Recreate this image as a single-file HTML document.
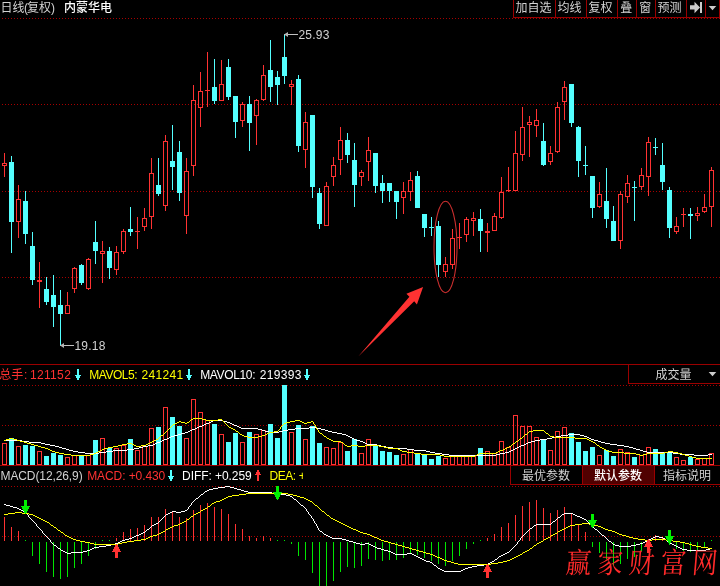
<!DOCTYPE html>
<html lang="zh-CN"><head><meta charset="utf-8"><title>内蒙华电 日线(复权)</title>
<style>
html,body{margin:0;padding:0;background:#000;}
body{width:720px;height:586px;overflow:hidden;position:relative;font-family:"Liberation Sans","Noto Sans CJK SC",sans-serif;font-size:12px;line-height:14px;color:#c0c0c0;}
#chart{position:absolute;left:0;top:0;width:720px;height:586px;display:block;}
.t{position:absolute;white-space:nowrap;height:14px;line-height:14px;font-size:12px;}
.g{color:#d2d2d2}.w{color:#fff}.cw{font-weight:500}.r{color:#ff3232}.y{color:#ffff00}
.btn{position:absolute;box-sizing:border-box;border:1px solid #9a0000;text-align:center;color:#c0c0c0;font-size:12px;line-height:14px;white-space:nowrap;overflow:hidden;}
.wm{position:absolute;left:564px;top:549px;font-family:"Liberation Serif","Noto Serif CJK SC",serif;font-weight:400;font-size:25.5px;line-height:34px;letter-spacing:6.1px;color:#ff2a2a;white-space:nowrap;transform:skewX(-5deg) scaleY(1.13);transform-origin:left bottom;}
</style></head><body>
<svg id="chart" width="720" height="586" viewBox="0 0 720 586" shape-rendering="crispEdges">
<rect width="720" height="586" fill="#000"/>
<g stroke="#a60000" stroke-width="1" stroke-dasharray="1 2" fill="none">
<line x1="2" y1="18.5" x2="720" y2="18.5"/>
<line x1="2" y1="104.5" x2="720" y2="104.5"/>
<line x1="2" y1="191.5" x2="720" y2="191.5"/>
<line x1="2" y1="277.5" x2="720" y2="277.5"/>
<line x1="2" y1="385.5" x2="720" y2="385.5"/>
<line x1="2" y1="425.5" x2="720" y2="425.5"/>
<line x1="2" y1="486.5" x2="720" y2="486.5"/>
<line x1="2" y1="536.5" x2="720" y2="536.5"/>
</g>
<g stroke="#9a0000" stroke-width="1" fill="none">
<line x1="0" y1="364.5" x2="720" y2="364.5"/>
<line x1="0" y1="465.5" x2="720" y2="465.5"/>
</g>
<path fill="#54ffff" d="M11 156h1v97h-1zM9 162h5v60h-5zM25 191h1v53h-1zM23 201h5v33h-5zM32 232h1v53h-1zM30 246h5v34h-5zM46 277h1v28h-1zM44 289h5v13h-5zM53 275h1v52h-1zM51 295h5v12h-5zM60 290h1v55h-1zM58 305h5v9h-5zM81 264h1v21h-1zM79 265h5v18h-5zM95 221h1v43h-1zM93 242h5v9h-5zM109 247h1v32h-1zM107 251h5v17h-5zM130 207h1v29h-1zM128 229h5v3h-5zM158 158h1v38h-1zM156 185h5v9h-5zM172 125h1v65h-1zM170 161h5v6h-5zM179 141h1v60h-1zM177 152h5v41h-5zM214 59h1v45h-1zM212 87h5v14h-5zM228 59h1v41h-1zM226 67h5v30h-5zM235 96h1v42h-1zM233 96h5v26h-5zM249 96h1v55h-1zM247 104h5v19h-5zM270 40h1v62h-1zM268 70h5v17h-5zM277 71h1v34h-1zM275 77h5v8h-5zM284 34h1v50h-1zM282 57h5v19h-5zM298 75h1v77h-1zM296 79h5v67h-5zM312 115h1v83h-1zM310 115h5v72h-5zM319 188h1v41h-1zM317 193h5v31h-5zM347 133h1v30h-1zM345 140h5v15h-5zM354 143h1v64h-1zM352 160h5v25h-5zM375 153h1v40h-1zM373 153h5v33h-5zM382 175h1v28h-1zM380 183h5v8h-5zM389 183h1v19h-1zM387 183h5v8h-5zM396 191h1v28h-1zM394 191h5v11h-5zM417 171h1v37h-1zM415 176h5v32h-5zM424 214h1v23h-1zM422 214h5v14h-5zM431 217h1v19h-1zM429 227h5v1h-5zM438 221h1v56h-1zM436 226h5v39h-5zM480 209h1v43h-1zM478 219h5v12h-5zM543 123h1v43h-1zM541 141h5v24h-5zM571 84h1v43h-1zM569 84h5v39h-5zM578 126h1v51h-1zM576 127h5v34h-5zM585 146h1v29h-1zM583 165h5v1h-5zM592 176h1v42h-1zM590 176h5v32h-5zM606 168h1v60h-1zM604 201h5v18h-5zM613 206h1v35h-1zM611 221h5v20h-5zM634 181h1v40h-1zM632 187h5v1h-5zM655 138h1v17h-1zM653 147h5v1h-5zM662 143h1v47h-1zM660 165h5v17h-5zM669 187h1v51h-1zM667 190h5v38h-5zM690 208h1v31h-1zM688 214h5v2h-5z"/>
<path fill="#ff3232" d="M4 153h1v10h-1zM4 166h1v11h-1zM18 185h1v14h-1zM18 222h1v16h-1zM39 262h1v46h-1zM37 280h5v2h-5zM67 292h1v13h-1zM74 267h1v1h-1zM74 289h1v4h-1zM88 258h1v1h-1zM88 289h1v1h-1zM102 241h1v10h-1zM102 254h1v29h-1zM116 246h1v6h-1zM116 270h1v5h-1zM123 229h1v2h-1zM123 252h1v2h-1zM137 217h1v32h-1zM135 231h5v1h-5zM144 208h1v10h-1zM144 227h1v4h-1zM151 158h1v15h-1zM151 217h1v12h-1zM165 135h1v6h-1zM165 206h1v5h-1zM186 158h1v13h-1zM186 216h1v18h-1zM193 85h1v15h-1zM193 166h1v10h-1zM200 72h1v19h-1zM200 108h1v19h-1zM207 52h1v55h-1zM205 90h5v1h-5zM221 60h1v24h-1zM242 102h1v2h-1zM242 121h1v6h-1zM256 99h1v1h-1zM256 116h1v29h-1zM263 65h1v10h-1zM263 100h1v1h-1zM291 80h1v4h-1zM291 87h1v18h-1zM305 112h1v10h-1zM305 150h1v18h-1zM326 182h1v4h-1zM333 157h1v8h-1zM333 177h1v9h-1zM340 127h1v13h-1zM340 160h1v15h-1zM361 170h1v2h-1zM361 177h1v9h-1zM368 137h1v13h-1zM368 162h1v19h-1zM403 182h1v9h-1zM403 198h1v16h-1zM410 172h1v8h-1zM410 192h1v9h-1zM445 257h1v7h-1zM445 272h1v5h-1zM452 229h1v9h-1zM452 265h1v4h-1zM459 223h1v26h-1zM457 237h5v1h-5zM466 217h1v2h-1zM466 235h1v7h-1zM473 212h1v6h-1zM473 221h1v15h-1zM487 223h1v29h-1zM485 231h5v2h-5zM494 213h1v3h-1zM501 177h1v15h-1zM501 218h1v1h-1zM508 167h1v25h-1zM506 190h5v1h-5zM515 131h1v22h-1zM522 107h1v20h-1zM522 155h1v6h-1zM529 116h1v6h-1zM529 125h1v32h-1zM536 109h1v11h-1zM536 126h1v11h-1zM550 146h1v7h-1zM550 162h1v3h-1zM557 102h1v5h-1zM557 152h1v1h-1zM564 81h1v6h-1zM564 102h1v18h-1zM599 182h1v12h-1zM599 207h1v1h-1zM620 191h1v3h-1zM620 241h1v8h-1zM627 175h1v8h-1zM627 197h1v6h-1zM641 168h1v7h-1zM641 187h1v3h-1zM648 137h1v5h-1zM648 177h1v19h-1zM676 217h1v9h-1zM676 232h1v2h-1zM683 208h1v19h-1zM681 214h5v1h-5zM697 207h1v6h-1zM697 216h1v5h-1zM704 194h1v13h-1zM704 212h1v1h-1zM711 167h1v3h-1zM711 207h1v20h-1z"/>
<path fill="none" stroke="#ff3232" stroke-width="1" d="M2.5 163.5h4v2h-4zM16.5 199.5h4v22h-4zM65.5 305.5h4v8h-4zM72.5 268.5h4v20h-4zM86.5 259.5h4v29h-4zM100.5 251.5h4v2h-4zM114.5 252.5h4v17h-4zM121.5 231.5h4v20h-4zM142.5 218.5h4v8h-4zM149.5 173.5h4v43h-4zM163.5 141.5h4v64h-4zM184.5 171.5h4v44h-4zM191.5 100.5h4v65h-4zM198.5 91.5h4v16h-4zM219.5 84.5h4v16h-4zM240.5 104.5h4v16h-4zM254.5 100.5h4v15h-4zM261.5 75.5h4v24h-4zM289.5 84.5h4v2h-4zM303.5 122.5h4v27h-4zM324.5 186.5h4v39h-4zM331.5 165.5h4v11h-4zM338.5 140.5h4v19h-4zM359.5 172.5h4v4h-4zM366.5 150.5h4v11h-4zM401.5 191.5h4v6h-4zM408.5 180.5h4v11h-4zM443.5 264.5h4v7h-4zM450.5 238.5h4v26h-4zM464.5 219.5h4v15h-4zM471.5 218.5h4v2h-4zM492.5 216.5h4v14h-4zM499.5 192.5h4v25h-4zM513.5 153.5h4v37h-4zM520.5 127.5h4v27h-4zM527.5 122.5h4v2h-4zM534.5 120.5h4v5h-4zM548.5 153.5h4v8h-4zM555.5 107.5h4v44h-4zM562.5 87.5h4v14h-4zM597.5 194.5h4v12h-4zM618.5 194.5h4v46h-4zM625.5 183.5h4v13h-4zM639.5 175.5h4v11h-4zM646.5 142.5h4v34h-4zM674.5 226.5h4v5h-4zM695.5 213.5h4v2h-4zM702.5 207.5h4v4h-4zM709.5 170.5h4v36h-4z"/>
<path fill="#54ffff" d="M9 438h5v27h-5zM23 445h5v20h-5zM30 446h5v19h-5zM44 456h5v9h-5zM51 453h5v12h-5zM58 455h5v10h-5zM79 455h5v10h-5zM93 440h5v25h-5zM107 448h5v17h-5zM128 439h5v26h-5zM156 427h5v38h-5zM170 417h5v48h-5zM177 426h5v39h-5zM212 424h5v41h-5zM226 442h5v23h-5zM233 433h5v32h-5zM247 432h5v33h-5zM268 424h5v41h-5zM275 438h5v27h-5zM282 385h5v80h-5zM296 425h5v40h-5zM310 426h5v39h-5zM317 443h5v22h-5zM345 451h5v14h-5zM352 439h5v26h-5zM373 445h5v20h-5zM380 451h5v14h-5zM387 452h5v13h-5zM394 455h5v10h-5zM415 453h5v12h-5zM422 454h5v11h-5zM429 459h5v6h-5zM436 456h5v9h-5zM478 448h5v17h-5zM541 440h5v25h-5zM569 433h5v32h-5zM576 442h5v23h-5zM583 451h5v14h-5zM590 447h5v18h-5zM604 450h5v15h-5zM611 456h5v9h-5zM632 457h5v8h-5zM653 449h5v16h-5zM660 453h5v12h-5zM667 452h5v13h-5zM688 457h5v8h-5z"/>
<path fill="none" stroke="#ff3232" stroke-width="1" d="M2.5 443.5h4v21h-4zM16.5 446.5h4v18h-4zM37.5 451.5h4v13h-4zM65.5 457.5h4v7h-4zM72.5 455.5h4v9h-4zM86.5 455.5h4v9h-4zM100.5 438.5h4v26h-4zM114.5 448.5h4v16h-4zM121.5 445.5h4v19h-4zM135.5 450.5h4v14h-4zM142.5 446.5h4v18h-4zM149.5 428.5h4v36h-4zM163.5 407.5h4v57h-4zM184.5 438.5h4v26h-4zM191.5 399.5h4v65h-4zM198.5 412.5h4v52h-4zM205.5 420.5h4v44h-4zM219.5 434.5h4v30h-4zM240.5 442.5h4v22h-4zM254.5 434.5h4v30h-4zM261.5 430.5h4v34h-4zM289.5 432.5h4v32h-4zM303.5 439.5h4v25h-4zM324.5 447.5h4v17h-4zM331.5 448.5h4v16h-4zM338.5 442.5h4v22h-4zM359.5 453.5h4v11h-4zM366.5 439.5h4v25h-4zM401.5 454.5h4v10h-4zM408.5 449.5h4v15h-4zM443.5 458.5h4v6h-4zM450.5 455.5h4v9h-4zM457.5 456.5h4v8h-4zM464.5 456.5h4v8h-4zM471.5 456.5h4v8h-4zM485.5 451.5h4v13h-4zM492.5 453.5h4v11h-4zM499.5 441.5h4v23h-4zM506.5 447.5h4v17h-4zM513.5 415.5h4v49h-4zM520.5 426.5h4v38h-4zM527.5 426.5h4v38h-4zM534.5 437.5h4v27h-4zM548.5 450.5h4v14h-4zM555.5 431.5h4v33h-4zM562.5 427.5h4v37h-4zM597.5 455.5h4v9h-4zM618.5 449.5h4v15h-4zM625.5 452.5h4v12h-4zM639.5 455.5h4v9h-4zM646.5 447.5h4v17h-4zM674.5 457.5h4v7h-4zM681.5 460.5h4v4h-4zM695.5 459.5h4v5h-4zM702.5 458.5h4v6h-4zM709.5 453.5h4v11h-4z"/>
<path fill="#ffffff" d="M213 420h10v1h-10zM211 421h2v1h-2zM223 421h4v1h-4zM209 422h2v1h-2zM227 422h3v1h-3zM206 423h3v1h-3zM230 423h2v1h-2zM204 424h2v1h-2zM232 424h2v1h-2zM202 425h2v1h-2zM234 425h3v1h-3zM199 426h3v1h-3zM237 426h2v1h-2zM197 427h2v1h-2zM239 427h2v1h-2zM309 427h7v1h-7zM195 428h2v1h-2zM241 428h17v1h-17zM295 428h14v1h-14zM316 428h5v1h-5zM192 429h3v1h-3zM258 429h4v1h-4zM288 429h7v1h-7zM321 429h4v1h-4zM190 430h2v1h-2zM262 430h3v1h-3zM283 430h5v1h-5zM325 430h3v1h-3zM188 431h2v1h-2zM265 431h4v1h-4zM279 431h4v1h-4zM328 431h4v1h-4zM185 432h3v1h-3zM269 432h10v1h-10zM332 432h5v1h-5zM181 433h4v1h-4zM337 433h5v1h-5zM178 434h3v1h-3zM342 434h4v1h-4zM568 434h12v1h-12zM174 435h4v1h-4zM346 435h2v1h-2zM561 435h7v1h-7zM580 435h4v1h-4zM171 436h3v1h-3zM348 436h2v1h-2zM556 436h5v1h-5zM584 436h3v1h-3zM169 437h2v1h-2zM350 437h2v1h-2zM552 437h4v1h-4zM587 437h2v1h-2zM167 438h2v1h-2zM352 438h2v1h-2zM547 438h5v1h-5zM589 438h2v1h-2zM164 439h3v1h-3zM354 439h2v1h-2zM540 439h7v1h-7zM591 439h3v1h-3zM4 440h18v1h-18zM162 440h2v1h-2zM356 440h4v1h-4zM535 440h5v1h-5zM594 440h4v1h-4zM22 441h7v1h-7zM160 441h2v1h-2zM360 441h3v1h-3zM531 441h4v1h-4zM598 441h3v1h-3zM29 442h12v1h-12zM157 442h3v1h-3zM363 442h2v1h-2zM528 442h3v1h-3zM601 442h4v1h-4zM41 443h4v1h-4zM155 443h2v1h-2zM365 443h2v1h-2zM526 443h2v1h-2zM605 443h5v1h-5zM45 444h5v1h-5zM153 444h2v1h-2zM367 444h10v1h-10zM524 444h2v1h-2zM610 444h7v1h-7zM50 445h5v1h-5zM148 445h5v1h-5zM377 445h4v1h-4zM521 445h3v1h-3zM617 445h7v1h-7zM55 446h4v1h-4zM143 446h5v1h-5zM381 446h5v1h-5zM519 446h2v1h-2zM624 446h5v1h-5zM59 447h3v1h-3zM139 447h4v1h-4zM386 447h7v1h-7zM517 447h2v1h-2zM629 447h4v1h-4zM62 448h4v1h-4zM134 448h5v1h-5zM393 448h14v1h-14zM515 448h2v1h-2zM633 448h3v1h-3zM66 449h3v1h-3zM127 449h7v1h-7zM407 449h7v1h-7zM513 449h2v1h-2zM636 449h4v1h-4zM69 450h4v1h-4zM113 450h14v1h-14zM414 450h12v1h-12zM511 450h2v1h-2zM640 450h3v1h-3zM73 451h5v1h-5zM106 451h7v1h-7zM426 451h4v1h-4zM509 451h2v1h-2zM643 451h4v1h-4zM78 452h7v1h-7zM99 452h7v1h-7zM430 452h5v1h-5zM505 452h4v1h-4zM647 452h26v1h-26zM85 453h14v1h-14zM435 453h7v1h-7zM500 453h5v1h-5zM673 453h7v1h-7zM442 454h7v1h-7zM496 454h4v1h-4zM680 454h14v1h-14zM708 454h4v1h-4zM449 455h47v1h-47zM694 455h14v1h-14z"/>
<path fill="#ffff00" d="M193 418h9v1h-9zM191 419h2v1h-2zM202 419h4v1h-4zM218 419h4v1h-4zM190 420h1v1h-1zM206 420h12v1h-12zM222 420h1v1h-1zM295 420h5v1h-5zM179 421h2v1h-2zM189 421h1v1h-1zM223 421h1v1h-1zM290 421h5v1h-5zM300 421h2v1h-2zM311 421h2v1h-2zM177 422h2v1h-2zM181 422h4v1h-4zM187 422h2v1h-2zM224 422h1v1h-1zM286 422h4v1h-4zM302 422h2v1h-2zM307 422h4v1h-4zM313 422h1v1h-1zM175 423h2v1h-2zM185 423h2v1h-2zM225 423h1v1h-1zM284 423h2v1h-2zM304 423h3v1h-3zM313 423h1v1h-1zM173 424h2v1h-2zM226 424h1v1h-1zM283 424h1v1h-1zM314 424h1v1h-1zM172 425h1v1h-1zM227 425h1v1h-1zM282 425h1v1h-1zM315 425h1v1h-1zM171 426h1v1h-1zM228 426h1v1h-1zM281 426h1v1h-1zM315 426h1v1h-1zM170 427h1v1h-1zM229 427h2v1h-2zM280 427h1v1h-1zM316 427h1v1h-1zM169 428h1v1h-1zM231 428h2v1h-2zM280 428h1v1h-1zM316 428h1v1h-1zM168 429h1v1h-1zM233 429h2v1h-2zM279 429h1v1h-1zM317 429h1v1h-1zM167 430h1v1h-1zM235 430h1v1h-1zM278 430h1v1h-1zM318 430h1v1h-1zM533 430h11v1h-11zM166 431h1v1h-1zM236 431h2v1h-2zM274 431h4v1h-4zM318 431h1v1h-1zM529 431h4v1h-4zM544 431h1v1h-1zM165 432h1v1h-1zM238 432h1v1h-1zM269 432h5v1h-5zM319 432h1v1h-1zM528 432h1v1h-1zM545 432h1v1h-1zM164 433h1v1h-1zM239 433h1v1h-1zM267 433h2v1h-2zM320 433h2v1h-2zM527 433h1v1h-1zM546 433h2v1h-2zM163 434h1v1h-1zM240 434h2v1h-2zM265 434h2v1h-2zM322 434h1v1h-1zM525 434h2v1h-2zM548 434h1v1h-1zM161 435h2v1h-2zM242 435h2v1h-2zM262 435h3v1h-3zM323 435h1v1h-1zM524 435h1v1h-1zM549 435h1v1h-1zM160 436h1v1h-1zM244 436h4v1h-4zM258 436h4v1h-4zM324 436h2v1h-2zM523 436h1v1h-1zM550 436h4v1h-4zM159 437h1v1h-1zM248 437h10v1h-10zM326 437h1v1h-1zM522 437h1v1h-1zM554 437h21v1h-21zM10 438h3v1h-3zM158 438h1v1h-1zM327 438h2v1h-2zM520 438h2v1h-2zM575 438h12v1h-12zM6 439h4v1h-4zM13 439h4v1h-4zM156 439h2v1h-2zM329 439h2v1h-2zM519 439h1v1h-1zM587 439h2v1h-2zM4 440h2v1h-2zM17 440h3v1h-3zM154 440h2v1h-2zM331 440h2v1h-2zM518 440h1v1h-1zM589 440h2v1h-2zM20 441h4v1h-4zM152 441h2v1h-2zM333 441h8v1h-8zM516 441h2v1h-2zM591 441h2v1h-2zM24 442h3v1h-3zM150 442h2v1h-2zM341 442h2v1h-2zM515 442h1v1h-1zM593 442h2v1h-2zM27 443h4v1h-4zM127 443h5v1h-5zM148 443h2v1h-2zM343 443h1v1h-1zM513 443h2v1h-2zM595 443h1v1h-1zM31 444h3v1h-3zM122 444h5v1h-5zM132 444h2v1h-2zM146 444h2v1h-2zM344 444h1v1h-1zM512 444h1v1h-1zM596 444h1v1h-1zM34 445h4v1h-4zM118 445h4v1h-4zM134 445h2v1h-2zM141 445h5v1h-5zM345 445h2v1h-2zM351 445h7v1h-7zM365 445h14v1h-14zM511 445h1v1h-1zM597 445h2v1h-2zM38 446h3v1h-3zM113 446h5v1h-5zM136 446h5v1h-5zM347 446h4v1h-4zM358 446h7v1h-7zM379 446h5v1h-5zM509 446h2v1h-2zM599 446h1v1h-1zM41 447h4v1h-4zM108 447h5v1h-5zM384 447h4v1h-4zM507 447h2v1h-2zM600 447h2v1h-2zM45 448h3v1h-3zM104 448h4v1h-4zM388 448h10v1h-10zM505 448h2v1h-2zM602 448h2v1h-2zM48 449h2v1h-2zM102 449h2v1h-2zM398 449h2v1h-2zM503 449h2v1h-2zM604 449h2v1h-2zM50 450h2v1h-2zM100 450h2v1h-2zM400 450h2v1h-2zM500 450h3v1h-3zM606 450h2v1h-2zM52 451h3v1h-3zM98 451h2v1h-2zM402 451h5v1h-5zM498 451h2v1h-2zM608 451h4v1h-4zM668 451h5v1h-5zM55 452h4v1h-4zM96 452h2v1h-2zM407 452h7v1h-7zM496 452h2v1h-2zM612 452h12v1h-12zM664 452h4v1h-4zM673 452h5v1h-5zM59 453h5v1h-5zM94 453h2v1h-2zM414 453h7v1h-7zM479 453h17v1h-17zM624 453h12v1h-12zM647 453h17v1h-17zM678 453h4v1h-4zM64 454h7v1h-7zM90 454h4v1h-4zM421 454h19v1h-19zM477 454h2v1h-2zM636 454h4v1h-4zM643 454h4v1h-4zM682 454h3v1h-3zM71 455h19v1h-19zM440 455h4v1h-4zM475 455h2v1h-2zM640 455h3v1h-3zM685 455h4v1h-4zM444 456h31v1h-31zM689 456h3v1h-3zM692 457h4v1h-4zM696 458h16v1h-16z"/>
<path fill="#ff3232" d="M4 517h1v24h-1zM11 527h1v14h-1zM18 531h1v10h-1zM116 538h1v3h-1zM123 532h1v9h-1zM130 529h1v12h-1zM137 528h1v13h-1zM144 525h1v16h-1zM151 517h1v24h-1zM158 517h1v24h-1zM165 509h1v32h-1zM172 511h1v30h-1zM179 517h1v24h-1zM186 518h1v23h-1zM193 510h1v31h-1zM200 505h1v36h-1zM207 503h1v38h-1zM214 507h1v34h-1zM221 509h1v32h-1zM228 514h1v27h-1zM235 524h1v17h-1zM242 529h1v12h-1zM249 536h1v5h-1zM256 538h1v3h-1zM263 536h1v5h-1zM270 538h1v3h-1zM487 538h1v3h-1zM494 534h1v7h-1zM501 527h1v14h-1zM508 523h1v18h-1zM515 515h1v26h-1zM522 506h1v35h-1zM529 502h1v39h-1zM536 500h1v41h-1zM543 508h1v33h-1zM550 513h1v28h-1zM557 510h1v31h-1zM564 507h1v34h-1zM571 513h1v28h-1zM578 524h1v17h-1zM585 532h1v9h-1zM655 535h1v6h-1zM662 538h1v3h-1z"/>
<path fill="#00e600" d="M25 540h1v1h-1zM32 542h1v14h-1zM39 542h1v22h-1zM46 542h1v30h-1zM53 542h1v35h-1zM60 542h1v37h-1zM67 542h1v35h-1zM74 542h1v26h-1zM81 542h1v22h-1zM88 542h1v14h-1zM95 542h1v7h-1zM102 540h1v1h-1zM109 540h1v1h-1zM277 540h1v1h-1zM284 540h1v1h-1zM291 542h1v2h-1zM298 542h1v14h-1zM305 542h1v18h-1zM312 542h1v31h-1zM319 542h1v44h-1zM326 542h1v45h-1zM333 542h1v39h-1zM340 542h1v30h-1zM347 542h1v25h-1zM354 542h1v26h-1zM361 542h1v24h-1zM368 542h1v17h-1zM375 542h1v18h-1zM382 542h1v19h-1zM389 542h1v18h-1zM396 542h1v18h-1zM403 542h1v16h-1zM410 542h1v11h-1zM417 542h1v13h-1zM424 542h1v16h-1zM431 542h1v19h-1zM438 542h1v22h-1zM445 542h1v24h-1zM452 542h1v19h-1zM459 542h1v14h-1zM466 542h1v7h-1zM473 542h1v2h-1zM480 540h1v1h-1zM592 542h1v5h-1zM599 542h1v11h-1zM606 542h1v17h-1zM613 542h1v23h-1zM620 542h1v22h-1zM627 542h1v17h-1zM634 542h1v15h-1zM641 542h1v9h-1zM648 540h1v1h-1zM669 542h1v3h-1zM676 542h1v7h-1zM683 542h1v9h-1zM690 542h1v10h-1zM697 542h1v9h-1zM704 542h1v5h-1zM711 540h1v1h-1z"/>
<path fill="#ffffff" d="M225 486h5v1h-5zM218 487h7v1h-7zM230 487h4v1h-4zM213 488h5v1h-5zM234 488h3v1h-3zM209 489h4v1h-4zM237 489h4v1h-4zM207 490h2v1h-2zM241 490h3v1h-3zM205 491h2v1h-2zM244 491h4v1h-4zM204 492h1v1h-1zM248 492h24v1h-24zM203 493h1v1h-1zM272 493h4v1h-4zM201 494h2v1h-2zM276 494h10v1h-10zM200 495h1v1h-1zM286 495h4v1h-4zM199 496h1v1h-1zM290 496h2v1h-2zM198 497h1v1h-1zM292 497h1v1h-1zM196 498h2v1h-2zM293 498h1v1h-1zM195 499h1v1h-1zM294 499h2v1h-2zM194 500h1v1h-1zM296 500h1v1h-1zM193 501h1v1h-1zM297 501h1v1h-1zM192 502h1v1h-1zM298 502h1v1h-1zM191 503h1v1h-1zM299 503h1v1h-1zM4 504h2v1h-2zM191 504h1v1h-1zM300 504h1v1h-1zM6 505h4v1h-4zM190 505h1v1h-1zM301 505h2v1h-2zM10 506h3v1h-3zM189 506h1v1h-1zM303 506h1v1h-1zM13 507h4v1h-4zM188 507h1v1h-1zM304 507h1v1h-1zM17 508h2v1h-2zM188 508h1v1h-1zM305 508h1v1h-1zM19 509h2v1h-2zM187 509h1v1h-1zM306 509h1v1h-1zM21 510h2v1h-2zM185 510h2v1h-2zM306 510h1v1h-1zM23 511h2v1h-2zM172 511h4v1h-4zM181 511h4v1h-4zM307 511h1v1h-1zM25 512h1v1h-1zM170 512h2v1h-2zM176 512h5v1h-5zM308 512h1v1h-1zM26 513h1v1h-1zM168 513h2v1h-2zM308 513h1v1h-1zM564 513h9v1h-9zM27 514h1v1h-1zM166 514h2v1h-2zM309 514h1v1h-1zM562 514h2v1h-2zM573 514h2v1h-2zM28 515h1v1h-1zM165 515h1v1h-1zM310 515h1v1h-1zM561 515h1v1h-1zM575 515h2v1h-2zM28 516h1v1h-1zM164 516h1v1h-1zM311 516h1v1h-1zM560 516h1v1h-1zM577 516h3v1h-3zM29 517h1v1h-1zM163 517h1v1h-1zM311 517h1v1h-1zM558 517h2v1h-2zM580 517h2v1h-2zM30 518h1v1h-1zM162 518h1v1h-1zM312 518h1v1h-1zM557 518h1v1h-1zM582 518h2v1h-2zM31 519h1v1h-1zM161 519h1v1h-1zM313 519h1v1h-1zM556 519h1v1h-1zM584 519h2v1h-2zM32 520h1v1h-1zM160 520h1v1h-1zM313 520h1v1h-1zM555 520h1v1h-1zM586 520h1v1h-1zM33 521h1v1h-1zM159 521h1v1h-1zM314 521h1v1h-1zM553 521h2v1h-2zM587 521h1v1h-1zM34 522h1v1h-1zM158 522h1v1h-1zM314 522h1v1h-1zM552 522h1v1h-1zM588 522h1v1h-1zM35 523h1v1h-1zM156 523h2v1h-2zM315 523h1v1h-1zM551 523h1v1h-1zM589 523h1v1h-1zM36 524h1v1h-1zM154 524h2v1h-2zM316 524h1v1h-1zM536 524h15v1h-15zM590 524h1v1h-1zM36 525h1v1h-1zM152 525h2v1h-2zM316 525h1v1h-1zM534 525h2v1h-2zM591 525h1v1h-1zM37 526h1v1h-1zM151 526h1v1h-1zM317 526h1v1h-1zM533 526h1v1h-1zM592 526h1v1h-1zM38 527h1v1h-1zM150 527h1v1h-1zM317 527h1v1h-1zM532 527h1v1h-1zM593 527h1v1h-1zM39 528h1v1h-1zM149 528h1v1h-1zM318 528h1v1h-1zM530 528h2v1h-2zM594 528h1v1h-1zM40 529h1v1h-1zM147 529h2v1h-2zM318 529h1v1h-1zM529 529h1v1h-1zM595 529h2v1h-2zM41 530h1v1h-1zM146 530h1v1h-1zM319 530h1v1h-1zM528 530h1v1h-1zM597 530h1v1h-1zM42 531h1v1h-1zM145 531h1v1h-1zM320 531h2v1h-2zM527 531h1v1h-1zM598 531h1v1h-1zM42 532h1v1h-1zM143 532h2v1h-2zM322 532h1v1h-1zM526 532h1v1h-1zM599 532h1v1h-1zM43 533h1v1h-1zM141 533h2v1h-2zM323 533h1v1h-1zM525 533h1v1h-1zM600 533h1v1h-1zM44 534h1v1h-1zM139 534h2v1h-2zM324 534h2v1h-2zM524 534h1v1h-1zM601 534h1v1h-1zM45 535h1v1h-1zM136 535h3v1h-3zM326 535h2v1h-2zM523 535h1v1h-1zM602 535h2v1h-2zM46 536h1v1h-1zM134 536h2v1h-2zM328 536h2v1h-2zM522 536h1v1h-1zM604 536h1v1h-1zM655 536h4v1h-4zM47 537h1v1h-1zM132 537h2v1h-2zM330 537h2v1h-2zM521 537h1v1h-1zM605 537h1v1h-1zM653 537h2v1h-2zM659 537h4v1h-4zM48 538h1v1h-1zM129 538h3v1h-3zM332 538h10v1h-10zM520 538h1v1h-1zM606 538h1v1h-1zM651 538h2v1h-2zM663 538h2v1h-2zM49 539h1v1h-1zM125 539h4v1h-4zM342 539h4v1h-4zM520 539h1v1h-1zM607 539h1v1h-1zM649 539h2v1h-2zM665 539h1v1h-1zM50 540h1v1h-1zM122 540h3v1h-3zM346 540h3v1h-3zM519 540h1v1h-1zM608 540h1v1h-1zM647 540h2v1h-2zM666 540h1v1h-1zM50 541h1v1h-1zM120 541h2v1h-2zM349 541h4v1h-4zM518 541h1v1h-1zM609 541h2v1h-2zM645 541h2v1h-2zM667 541h2v1h-2zM51 542h1v1h-1zM118 542h2v1h-2zM353 542h3v1h-3zM517 542h1v1h-1zM611 542h1v1h-1zM643 542h2v1h-2zM669 542h1v1h-1zM52 543h1v1h-1zM115 543h3v1h-3zM356 543h4v1h-4zM365 543h4v1h-4zM517 543h1v1h-1zM612 543h1v1h-1zM640 543h3v1h-3zM670 543h2v1h-2zM53 544h1v1h-1zM111 544h4v1h-4zM360 544h5v1h-5zM369 544h2v1h-2zM516 544h1v1h-1zM613 544h2v1h-2zM636 544h4v1h-4zM672 544h2v1h-2zM54 545h2v1h-2zM106 545h5v1h-5zM371 545h2v1h-2zM515 545h1v1h-1zM615 545h4v1h-4zM631 545h5v1h-5zM674 545h2v1h-2zM56 546h1v1h-1zM99 546h7v1h-7zM373 546h2v1h-2zM514 546h1v1h-1zM619 546h12v1h-12zM676 546h2v1h-2zM57 547h1v1h-1zM94 547h5v1h-5zM375 547h2v1h-2zM513 547h1v1h-1zM678 547h2v1h-2zM58 548h2v1h-2zM92 548h2v1h-2zM377 548h4v1h-4zM512 548h1v1h-1zM680 548h2v1h-2zM710 548h2v1h-2zM60 549h1v1h-1zM90 549h2v1h-2zM381 549h3v1h-3zM511 549h1v1h-1zM682 549h5v1h-5zM706 549h4v1h-4zM61 550h2v1h-2zM87 550h3v1h-3zM384 550h4v1h-4zM510 550h1v1h-1zM687 550h19v1h-19zM63 551h2v1h-2zM83 551h4v1h-4zM388 551h3v1h-3zM509 551h1v1h-1zM65 552h2v1h-2zM71 552h12v1h-12zM391 552h2v1h-2zM507 552h2v1h-2zM67 553h4v1h-4zM393 553h2v1h-2zM407 553h5v1h-5zM505 553h2v1h-2zM395 554h12v1h-12zM412 554h2v1h-2zM503 554h2v1h-2zM414 555h2v1h-2zM501 555h2v1h-2zM416 556h2v1h-2zM499 556h2v1h-2zM418 557h2v1h-2zM498 557h1v1h-1zM420 558h2v1h-2zM497 558h1v1h-1zM422 559h2v1h-2zM495 559h2v1h-2zM424 560h2v1h-2zM494 560h1v1h-1zM426 561h4v1h-4zM492 561h2v1h-2zM430 562h2v1h-2zM490 562h2v1h-2zM432 563h1v1h-1zM488 563h2v1h-2zM433 564h1v1h-1zM484 564h4v1h-4zM434 565h2v1h-2zM477 565h7v1h-7zM436 566h1v1h-1zM472 566h5v1h-5zM437 567h1v1h-1zM468 567h4v1h-4zM438 568h2v1h-2zM465 568h3v1h-3zM440 569h2v1h-2zM463 569h2v1h-2zM442 570h2v1h-2zM461 570h2v1h-2zM444 571h17v1h-17z"/>
<path fill="#ffff00" d="M246 493h42v1h-42zM239 494h7v1h-7zM288 494h5v1h-5zM232 495h7v1h-7zM293 495h4v1h-4zM228 496h4v1h-4zM297 496h3v1h-3zM226 497h2v1h-2zM300 497h4v1h-4zM224 498h2v1h-2zM304 498h2v1h-2zM222 499h2v1h-2zM306 499h2v1h-2zM220 500h2v1h-2zM308 500h2v1h-2zM216 501h4v1h-4zM310 501h2v1h-2zM214 502h2v1h-2zM312 502h1v1h-1zM212 503h2v1h-2zM313 503h1v1h-1zM211 504h1v1h-1zM314 504h1v1h-1zM210 505h1v1h-1zM315 505h2v1h-2zM208 506h2v1h-2zM317 506h1v1h-1zM207 507h1v1h-1zM318 507h1v1h-1zM205 508h2v1h-2zM319 508h1v1h-1zM203 509h2v1h-2zM320 509h1v1h-1zM201 510h2v1h-2zM321 510h1v1h-1zM200 511h1v1h-1zM322 511h2v1h-2zM15 512h7v1h-7zM198 512h2v1h-2zM324 512h1v1h-1zM8 513h7v1h-7zM22 513h7v1h-7zM196 513h2v1h-2zM325 513h1v1h-1zM4 514h4v1h-4zM29 514h4v1h-4zM194 514h2v1h-2zM326 514h1v1h-1zM33 515h2v1h-2zM193 515h1v1h-1zM327 515h2v1h-2zM35 516h2v1h-2zM191 516h2v1h-2zM329 516h1v1h-1zM37 517h2v1h-2zM190 517h1v1h-1zM330 517h1v1h-1zM39 518h2v1h-2zM189 518h1v1h-1zM331 518h2v1h-2zM41 519h2v1h-2zM187 519h2v1h-2zM333 519h2v1h-2zM43 520h2v1h-2zM186 520h1v1h-1zM335 520h2v1h-2zM45 521h2v1h-2zM184 521h2v1h-2zM337 521h2v1h-2zM47 522h2v1h-2zM182 522h2v1h-2zM339 522h2v1h-2zM49 523h1v1h-1zM180 523h2v1h-2zM341 523h2v1h-2zM582 523h7v1h-7zM50 524h1v1h-1zM178 524h2v1h-2zM343 524h2v1h-2zM575 524h7v1h-7zM589 524h5v1h-5zM51 525h2v1h-2zM174 525h4v1h-4zM345 525h2v1h-2zM570 525h5v1h-5zM594 525h4v1h-4zM53 526h1v1h-1zM172 526h2v1h-2zM347 526h2v1h-2zM568 526h2v1h-2zM598 526h3v1h-3zM54 527h2v1h-2zM170 527h2v1h-2zM349 527h2v1h-2zM566 527h2v1h-2zM601 527h2v1h-2zM56 528h1v1h-1zM168 528h2v1h-2zM351 528h2v1h-2zM564 528h2v1h-2zM603 528h2v1h-2zM57 529h1v1h-1zM166 529h2v1h-2zM353 529h3v1h-3zM562 529h2v1h-2zM605 529h3v1h-3zM58 530h2v1h-2zM165 530h1v1h-1zM356 530h2v1h-2zM560 530h2v1h-2zM608 530h4v1h-4zM60 531h1v1h-1zM163 531h2v1h-2zM358 531h2v1h-2zM558 531h2v1h-2zM612 531h3v1h-3zM61 532h2v1h-2zM161 532h2v1h-2zM360 532h3v1h-3zM557 532h1v1h-1zM615 532h2v1h-2zM63 533h1v1h-1zM159 533h2v1h-2zM363 533h4v1h-4zM555 533h2v1h-2zM617 533h2v1h-2zM64 534h1v1h-1zM157 534h2v1h-2zM367 534h3v1h-3zM553 534h2v1h-2zM619 534h3v1h-3zM65 535h2v1h-2zM153 535h4v1h-4zM370 535h2v1h-2zM551 535h2v1h-2zM622 535h4v1h-4zM67 536h2v1h-2zM150 536h3v1h-3zM372 536h2v1h-2zM550 536h1v1h-1zM626 536h3v1h-3zM69 537h2v1h-2zM148 537h2v1h-2zM374 537h3v1h-3zM548 537h2v1h-2zM629 537h4v1h-4zM71 538h2v1h-2zM146 538h2v1h-2zM377 538h2v1h-2zM546 538h2v1h-2zM633 538h5v1h-5zM73 539h3v1h-3zM141 539h5v1h-5zM379 539h2v1h-2zM544 539h2v1h-2zM638 539h7v1h-7zM652 539h14v1h-14zM76 540h4v1h-4zM134 540h7v1h-7zM381 540h3v1h-3zM543 540h1v1h-1zM645 540h7v1h-7zM666 540h7v1h-7zM80 541h5v1h-5zM127 541h7v1h-7zM384 541h4v1h-4zM541 541h2v1h-2zM673 541h7v1h-7zM85 542h5v1h-5zM122 542h5v1h-5zM388 542h3v1h-3zM539 542h2v1h-2zM680 542h5v1h-5zM90 543h4v1h-4zM118 543h4v1h-4zM391 543h4v1h-4zM537 543h2v1h-2zM685 543h4v1h-4zM94 544h24v1h-24zM395 544h3v1h-3zM536 544h1v1h-1zM689 544h3v1h-3zM398 545h4v1h-4zM534 545h2v1h-2zM692 545h4v1h-4zM402 546h3v1h-3zM533 546h1v1h-1zM696 546h5v1h-5zM405 547h4v1h-4zM532 547h1v1h-1zM701 547h7v1h-7zM409 548h3v1h-3zM530 548h2v1h-2zM708 548h4v1h-4zM412 549h4v1h-4zM529 549h1v1h-1zM416 550h3v1h-3zM527 550h2v1h-2zM419 551h4v1h-4zM525 551h2v1h-2zM423 552h3v1h-3zM523 552h2v1h-2zM426 553h4v1h-4zM522 553h1v1h-1zM430 554h3v1h-3zM520 554h2v1h-2zM433 555h2v1h-2zM518 555h2v1h-2zM435 556h2v1h-2zM516 556h2v1h-2zM437 557h3v1h-3zM514 557h2v1h-2zM440 558h2v1h-2zM512 558h2v1h-2zM442 559h2v1h-2zM510 559h2v1h-2zM444 560h3v1h-3zM507 560h3v1h-3zM447 561h4v1h-4zM503 561h4v1h-4zM451 562h3v1h-3zM498 562h5v1h-5zM454 563h4v1h-4zM491 563h7v1h-7zM458 564h33v1h-33z"/>
<path fill="#00f000" d="M24 500h3v6h3v1h-1v2h-1v2h-1v2h-1v1h-1v-1h-1v-2h-1v-2h-1v-2h-1v-1h3z"/>
<path fill="#00f000" d="M276 486h3v6h3v1h-1v2h-1v2h-1v2h-1v1h-1v-1h-1v-2h-1v-2h-1v-2h-1v-1h3z"/>
<path fill="#00f000" d="M591 514h3v6h3v1h-1v2h-1v2h-1v2h-1v1h-1v-1h-1v-2h-1v-2h-1v-2h-1v-1h3z"/>
<path fill="#00f000" d="M668 530h3v6h3v1h-1v2h-1v2h-1v2h-1v1h-1v-1h-1v-2h-1v-2h-1v-2h-1v-1h3z"/>
<path fill="#ff3232" d="M116 544h1v1h1v2h1v2h1v2h1v1h-3v6h-3v-6h-3v-1h1v-2h1v-2h1v-2h1z"/>
<path fill="#ff3232" d="M487 564h1v1h1v2h1v2h1v2h1v1h-3v6h-3v-6h-3v-1h1v-2h1v-2h1v-2h1z"/>
<path fill="#ff3232" d="M648 539h1v1h1v2h1v2h1v2h1v1h-3v6h-3v-6h-3v-1h1v-2h1v-2h1v-2h1z"/>
<ellipse cx="445.5" cy="247" rx="11.5" ry="45.7" fill="none" stroke="#d03030" stroke-width="1.05" shape-rendering="auto"/>
<path fill="#ff3232" shape-rendering="auto" d="M358.3 356.4L409.4 296.7L406.4 293.7L423.1 287.1L416.9 304.6L414.2 301.2z"/>
<path fill="#c0c0c0" d="M284 34h14v1h-14z"/>
<path fill="#b4b4b4" d="M284 34.5l4 -2.6v5.2z" shape-rendering="auto"/>
<path fill="#c0c0c0" d="M60 345h14v1h-14z"/>
<path fill="#b4b4b4" d="M60 345.5l4 -2.6v5.2z" shape-rendering="auto"/>
<path fill="#54ffff" d="M77 369h2v6h2v1h-1v2h-1v2h-2v-2h-1v-2h-1v-1h2z"/>
<path fill="#54ffff" d="M188 369h2v6h2v1h-1v2h-1v2h-2v-2h-1v-2h-1v-1h2z"/>
<path fill="#54ffff" d="M306 369h2v6h2v1h-1v2h-1v2h-2v-2h-1v-2h-1v-1h2z"/>
<path fill="#54ffff" d="M170 470h2v6h2v1h-1v2h-1v2h-2v-2h-1v-2h-1v-1h2z"/>
<path fill="#ff3232" d="M257 470h2v2h1v2h1v1h-2v6h-2v-6h-2v-1h1v-2h1z"/>
<path fill="#cccccc" shape-rendering="auto" d="M690 5.2h4.5v-3.4l5.5 5.7l-5.5 5.7v-3.8h-4.5zM700 2h2v11h-2z"/>
<path fill="#cccccc" shape-rendering="auto" d="M708.7 6h7.6l-3.8 4.2z"/>
<path fill="#cccccc" shape-rendering="auto" d="M708.7 372h7.6l-3.8 4.2z"/>
</svg>
<div class="btn" style="left:513px;top:-1px;width:43px;height:19px;"></div>
<div class="btn" style="left:555px;top:-1px;width:32px;height:19px;"></div>
<div class="btn" style="left:586px;top:-1px;width:32px;height:19px;"></div>
<div class="btn" style="left:617px;top:-1px;width:20px;height:19px;"></div>
<div class="btn" style="left:636px;top:-1px;width:20px;height:19px;"></div>
<div class="btn" style="left:655px;top:-1px;width:32px;height:19px;"></div>
<div class="btn" style="left:686px;top:-1px;width:20px;height:19px;"></div>
<div class="btn" style="left:705px;top:-1px;width:15px;height:19px;"></div>
<div class="btn" style="left:628px;top:364px;width:93px;height:20px;"></div>
<div class="btn" style="left:510px;top:465px;width:73px;height:20px;"></div>
<div class="btn" style="left:582px;top:465px;width:73px;height:20px;background:#500000;"></div>
<div class="btn" style="left:654px;top:465px;width:67px;height:20px;"></div>
<span class="t g" style="left:515.5px;top:0.5px;">加自选</span>
<span class="t g" style="left:557.5px;top:0.5px;">均线</span>
<span class="t g" style="left:588.5px;top:0.5px;">复权</span>
<span class="t g" style="left:620.3px;top:0.5px;">叠</span>
<span class="t g" style="left:639.3px;top:0.5px;">窗</span>
<span class="t g" style="left:657.5px;top:0.5px;">预测</span>
<span class="t g" style="left:655.5px;top:367.5px;">成交量</span>
<span class="t g" style="left:522px;top:468.5px;">最优参数</span>
<span class="t w cw" style="left:594px;top:468.5px;">默认参数</span>
<span class="t g" style="left:663px;top:468.5px;">指标说明</span>
<span class="t g" style="left:0.5px;top:0.5px;">日线</span>
<span class="t g" style="left:24px;top:0.5px;">(</span>
<span class="t g" style="left:27px;top:0.5px;">复权</span>
<span class="t g" style="left:51px;top:0.5px;">)</span>
<span class="t w cw" style="left:64px;top:0.5px;">内蒙华电</span>
<span class="t g" style="left:298.5px;top:28px;letter-spacing:0.2px;">25.93</span>
<span class="t g" style="left:74.4px;top:339px;letter-spacing:0.25px;">19.18</span>
<span class="t r" style="left:-0.8px;top:367.5px;">总手</span>
<span class="t r" style="left:24px;top:368px;">:</span>
<span class="t r" style="left:30px;top:368px;letter-spacing:0.33px;">121152</span>
<span class="t y" style="left:89.2px;top:368px;letter-spacing:-0.45px;">MAVOL5:</span>
<span class="t y" style="left:141.6px;top:368px;letter-spacing:0.33px;">241241</span>
<span class="t w" style="left:200.2px;top:368px;letter-spacing:-0.36px;">MAVOL10:</span>
<span class="t w" style="left:259.8px;top:368px;letter-spacing:0.33px;">219393</span>
<span class="t g" style="left:0.5px;top:469px;letter-spacing:-0.1px;">MACD(12,26,9)</span>
<span class="t r" style="left:87.2px;top:469px;letter-spacing:-0.09px;">MACD: +0.430</span>
<span class="t w" style="left:182.1px;top:469px;letter-spacing:-0.07px;">DIFF: +0.259</span>
<span class="t y" style="left:269.4px;top:469px;letter-spacing:-0.4px;width:33.6px;overflow:hidden;">DEA: +</span>
<div class="wm">赢家财富网</div>
</body></html>
